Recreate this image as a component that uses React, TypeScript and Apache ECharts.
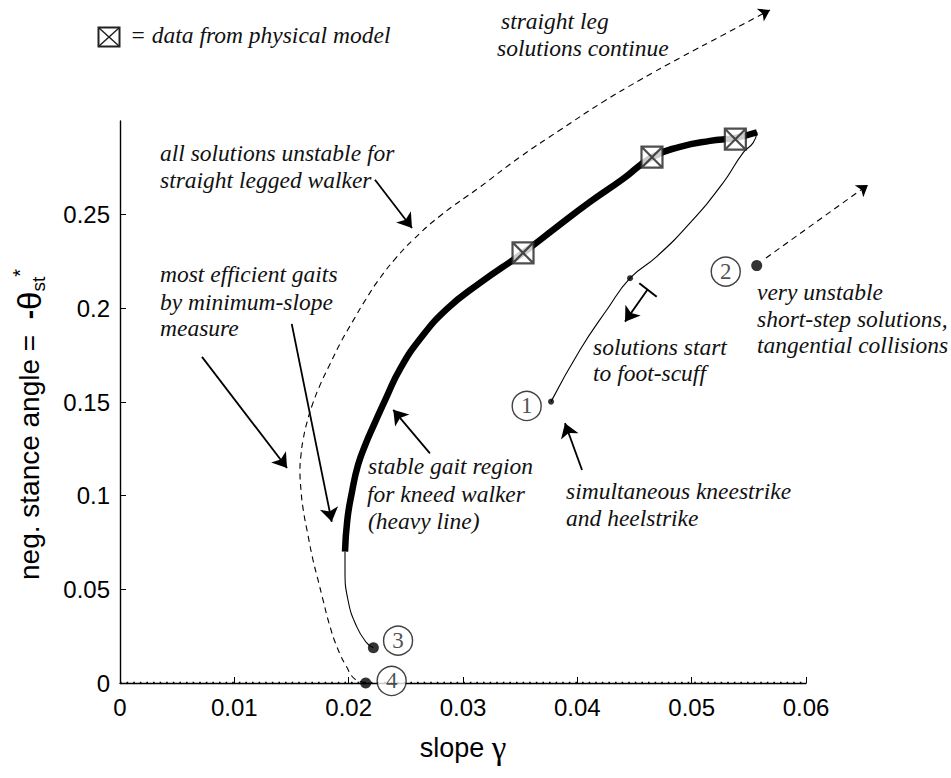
import React, { useEffect, useRef } from 'react';
import * as echarts from 'echarts';

// ---------- data (slope gamma, negative stance angle) ----------
const X_TICKS = [0, 0.01, 0.02, 0.03, 0.04, 0.05, 0.06];
const Y_TICKS = [0, 0.05, 0.1, 0.15, 0.2, 0.25];

// stable gait region for kneed walker (heavy line)
const STABLE_KNEED = [
  [0.01968, 0.0701], [0.01988, 0.087], [0.02027, 0.1014], [0.02082, 0.1164],
  [0.02152, 0.1281], [0.02213, 0.1367], [0.02335, 0.1532], [0.02449, 0.1676],
  [0.02624, 0.1836], [0.0286, 0.1997], [0.03149, 0.2136], [0.03525, 0.2296],
  [0.03822, 0.2435], [0.04111, 0.2568], [0.044, 0.2691], [0.04653, 0.2807],
  [0.04898, 0.2862], [0.05161, 0.2894], [0.0538, 0.291], [0.05572, 0.294],
];
// unstable kneed branch down to point 3
const KNEED_TO_P3 = [
  [0.01968, 0.0701], [0.01968, 0.0603], [0.01994, 0.0443], [0.0207, 0.0301],
  [0.02158, 0.0214], [0.02216, 0.0188],
];
// unstable kneed branch from the fold down to point 1
const KNEED_TO_P1 = [
  [0.05572, 0.294], [0.05537, 0.2883], [0.05449, 0.283], [0.05274, 0.2669],
  [0.04986, 0.2456], [0.04694, 0.2276], [0.04461, 0.2161], [0.04257, 0.1991],
  [0.04023, 0.1778], [0.0377, 0.1502],
];
// straight-legged walker solutions (dashed)
const STRAIGHT_LEG = [
  [0.02149, 0.0002], [0.02055, 0.0021], [0.01983, 0.0085], [0.01898, 0.0192],
  [0.01828, 0.032], [0.01776, 0.0443], [0.01732, 0.055], [0.01688, 0.0657],
  [0.01644, 0.079], [0.01603, 0.0924], [0.01583, 0.103], [0.01574, 0.1137],
  [0.01583, 0.1217], [0.01601, 0.1297], [0.01636, 0.1393], [0.01688, 0.1495],
  [0.01758, 0.1602], [0.01837, 0.1703], [0.01933, 0.1821], [0.02038, 0.1933],
  [0.02152, 0.205], [0.02274, 0.2162], [0.02414, 0.2269], [0.02563, 0.2365],
  [0.02799, 0.2493], [0.03149, 0.2648], [0.03499, 0.2808], [0.03849, 0.2952],
  [0.04225, 0.3102], [0.04548, 0.3219], [0.04898, 0.3337], [0.05292, 0.3465],
  [0.05685, 0.3593],
];
const STRAIGHT_LEG_ARROW = [[0.05615, 0.357], [0.05685, 0.3593]];
const TRIVIAL = [[0, 0], [0.06, 0]];
const PHYSICAL_MODEL = [[0.03525, 0.2296], [0.04653, 0.2807], [0.05382, 0.2903]];
const BIG_DOTS = [[0.05569, 0.2228], [0.02216, 0.0188], [0.02149, 0]];
const SMALL_DOTS = [[0.0377, 0.1502], [0.04461, 0.2161]];
const CIRCLE_NAMES = ['1', '2', '3', '4'];
const CIRCLE_POS = [[0.03557, 0.1479], [0.05298, 0.2196], [0.02432, 0.0226], [0.02376, 0.0011]];
const SHORT_STEP = [[0.0565, 0.2269], [0.06542, 0.2659]];

// annotation arrows (tail -> head) in data units
const ARROWS = [
  [[0.0223, 0.2686], [0.02554, 0.2429]],
  [[0.00717, 0.1741], [0.01461, 0.1148]],
  [[0.01502, 0.1917], [0.01852, 0.0861]],
  [[0.02711, 0.1226], [0.0239, 0.1458]],
  [[0.04041, 0.1137], [0.03892, 0.1387]],
  [[0.04616, 0.2102], [0.04417, 0.1929]],
];
const T_BAR = [[0.04542, 0.2134], [0.04694, 0.2062]];

const BOX_PATH = 'path://M0,0 L20,0 L20,20 L0,20 Z M0,0 L20,20 M20,0 L0,20';

export default function App() {
  const ref = useRef<HTMLDivElement>(null);
  useEffect(() => {
    if (!ref.current) return;
    const chart = echarts.init(ref.current, null, { renderer: 'svg' });
    const serif = '"Liberation Serif", "Times New Roman", serif';
    const sans = '"Liberation Sans", Arial, sans-serif';
    const txt = (text: string, x: number, y: number) => ({
      type: 'text', x, y, z: 100, silent: true,
      style: { text, fontFamily: serif, fontStyle: 'italic', fontSize: 23.5, fill: '#111', align: 'left', verticalAlign: 'middle' },
    });
    const option: any = {
      animation: false,
      backgroundColor: '#fff',
      grid: { left: 120, right: 145, top: 121, bottom: 95, containLabel: false },
      xAxis: {
        type: 'value', min: 0, max: 0.06, interval: 0.01,
        name: '{a|slope }{g|γ}', nameLocation: 'middle', nameGap: 48,
        nameTextStyle: { rich: { a: { fontSize: 27, fontFamily: sans, color: '#000' }, g: { fontSize: 33, fontFamily: serif, color: '#000' } } },
        axisLine: { show: true, onZero: false, lineStyle: { color: '#000', width: 1.4 } },
        axisTick: { show: true, inside: true, length: 6, lineStyle: { color: '#000' }, customValues: X_TICKS },
        axisLabel: { fontSize: 24, fontFamily: sans, color: '#000', margin: 12, customValues: X_TICKS, formatter: (v: number) => String(+v.toFixed(2)) },
        splitLine: { show: false },
      },
      yAxis: {
        type: 'value', min: 0, max: 0.3, interval: 0.05,
        axisLine: { show: true, onZero: false, lineStyle: { color: '#000', width: 1.4 } },
        axisTick: { show: true, inside: true, length: 6, lineStyle: { color: '#000' }, customValues: Y_TICKS },
        axisLabel: { fontSize: 24, fontFamily: sans, color: '#000', margin: 10, customValues: Y_TICKS, formatter: (v: number) => (v > 0.29 ? '' : String(+v.toFixed(2))) },
        splitLine: { show: false },
      },
      series: [
        { type: 'line', data: TRIVIAL, symbol: 'none', lineStyle: { color: '#000', width: 2.6, type: [1.6, 5] }, z: 1 },
        { type: 'line', data: STRAIGHT_LEG, symbol: 'none', smooth: 0.5, clip: false, lineStyle: { color: '#000', width: 1.1, type: [6, 4.5] }, z: 2 },
        { type: 'line', data: KNEED_TO_P3, symbol: 'none', smooth: 0.5, lineStyle: { color: '#000', width: 1.1 }, z: 2 },
        { type: 'line', data: KNEED_TO_P1, symbol: 'none', smooth: 0.5, lineStyle: { color: '#000', width: 1.1 }, z: 2 },
        { type: 'line', data: STABLE_KNEED, symbol: 'none', smooth: 0.5, lineStyle: { color: '#000', width: 6.5, cap: 'butt' }, z: 3 },
        { type: 'scatter', data: PHYSICAL_MODEL, symbol: BOX_PATH, symbolSize: [21, 21], itemStyle: { color: '#fff', borderColor: '#222', borderWidth: 2.2 }, z: 5 },
        { type: 'scatter', data: BIG_DOTS, symbol: 'circle', symbolSize: 11, itemStyle: { color: '#000' }, z: 5 },
        { type: 'scatter', data: SMALL_DOTS, symbol: 'circle', symbolSize: 6, itemStyle: { color: '#000' }, z: 5 },
        {
          type: 'scatter', z: 6, symbol: 'circle', symbolSize: 29,
          data: CIRCLE_POS.map((p, i) => ({ value: p, name: CIRCLE_NAMES[i] })),
          itemStyle: { color: '#fff', borderColor: '#111', borderWidth: 1.4 },
          label: { show: true, position: 'inside', formatter: '{b}', fontFamily: serif, fontSize: 23, color: '#222' },
        },
        {
          type: 'lines', coordinateSystem: 'cartesian2d', clip: false, z: 7,
          symbol: ['none', 'arrow'], symbolSize: [10, 14],
          lineStyle: { color: '#000', width: 1.8, opacity: 1 },
          data: ARROWS.map((c) => ({ coords: c })),
        },
        {
          type: 'lines', coordinateSystem: 'cartesian2d', clip: false, z: 7,
          symbol: ['none', 'none'], lineStyle: { color: '#000', width: 2, opacity: 1 },
          data: [{ coords: T_BAR }],
        },
        {
          type: 'lines', coordinateSystem: 'cartesian2d', clip: false, z: 7,
          symbol: ['none', 'arrow'], symbolSize: [8, 11],
          lineStyle: { color: '#000', width: 1.1, type: [6, 4.5], opacity: 1 },
          data: [{ coords: SHORT_STEP }, { coords: STRAIGHT_LEG_ARROW }],
        },
      ],
      graphic: [
        {
          type: 'group', x: 98.5, y: 27.5, z: 100, silent: true,
          children: [
            { type: 'rect', shape: { x: 0, y: 0, width: 21, height: 19 }, style: { fill: '#fff', stroke: '#222', lineWidth: 2 } },
            { type: 'line', shape: { x1: 0, y1: 0, x2: 21, y2: 19 }, style: { stroke: '#222', lineWidth: 1.5 } },
            { type: 'line', shape: { x1: 21, y1: 0, x2: 0, y2: 19 }, style: { stroke: '#222', lineWidth: 1.5 } },
          ],
        },
        txt('= data from physical model', 130, 35),
        txt('straight leg', 501, 21),
        txt('solutions continue', 497, 48),
        txt('all solutions unstable for', 160, 153),
        txt('straight legged walker', 160, 179.5),
        txt('most efficient gaits', 160, 274),
        txt('by minimum-slope', 160, 301.5),
        txt('measure', 160, 328),
        txt('stable gait region', 368, 466),
        txt('for kneed walker', 367, 494),
        txt('(heavy line)', 368, 520.5),
        txt('solutions start', 593, 347),
        txt('to foot-scuff', 593, 373),
        txt('simultaneous kneestrike', 566, 491),
        txt('and heelstrike', 566, 518),
        txt('very unstable', 757, 292),
        txt('short-step solutions,', 757, 319),
        txt('tangential collisions', 757, 345),
        {
          type: 'text', x: 29, y: 580, rotation: Math.PI / 2, z: 100, silent: true,
          style: {
            text: '{m|neg. stance angle =  }{d|-}{t|θ}{s|st}{p|*}',
            align: 'left', verticalAlign: 'middle',
            rich: {
              m: { fontSize: 28, fontFamily: sans, fill: '#000', lineHeight: 38, verticalAlign: 'middle' },
              d: { fontSize: 28, fontFamily: sans, fontWeight: 'bold', fill: '#000', lineHeight: 38, verticalAlign: 'middle' },
              t: { fontSize: 33, fontFamily: sans, fill: '#000', lineHeight: 38, verticalAlign: 'middle' },
              s: { fontSize: 19, fontFamily: sans, fill: '#000', lineHeight: 20, verticalAlign: 'bottom' },
              p: { fontSize: 20, fontFamily: sans, fill: '#000', lineHeight: 20, verticalAlign: 'top' },
            },
          },
        },
      ],
    };
    chart.setOption(option);
    return () => chart.dispose();
  }, []);
  return (
    <div
      ref={ref}
      style={{ position: 'absolute', left: 0, top: 0, width: 951, height: 778, background: '#fff' }}
    />
  );
}
